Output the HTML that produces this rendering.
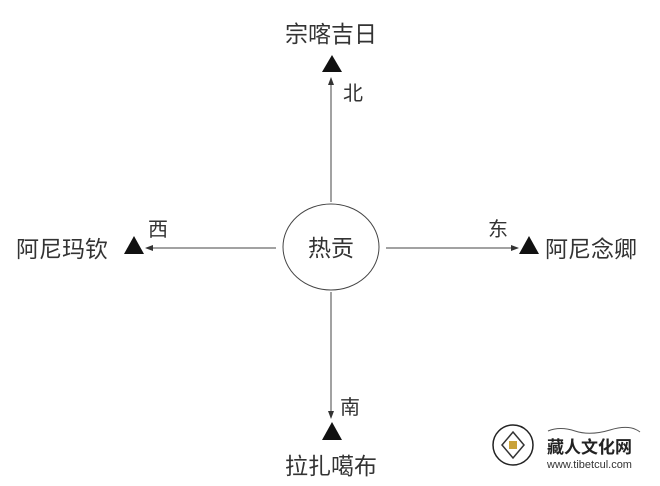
<!DOCTYPE html>
<html><head><meta charset="utf-8"><style>
html,body{margin:0;padding:0;background:#fff;}
svg{display:block;}
text{font-family:"Liberation Sans","Noto Sans CJK SC",sans-serif;fill:#333;}
</style></head><body>
<svg width="660" height="486" viewBox="0 0 660 486" xmlns="http://www.w3.org/2000/svg">
<defs>
<marker id="a" markerWidth="8" markerHeight="6" refX="7" refY="3" orient="auto" markerUnits="userSpaceOnUse">
<path d="M0,0 L8,3 L0,6 Z" fill="#333"/></marker>
</defs>
<g stroke="#444" stroke-width="1" fill="none">
<ellipse cx="331" cy="247" rx="48" ry="43"/>
<line x1="331" y1="202" x2="331" y2="78" marker-end="url(#a)"/>
<line x1="331" y1="292" x2="331" y2="418" marker-end="url(#a)"/>
<line x1="276" y1="248" x2="146" y2="248" marker-end="url(#a)"/>
<line x1="386" y1="248" x2="518" y2="248" marker-end="url(#a)"/>
</g>
<g fill="#111">
<polygon points="332,55 322,72 342,72"/>
<polygon points="332,422 322,440 342,440"/>
<polygon points="134,236 124,254 144,254"/>
<polygon points="529,236 519,254 539,254"/>
</g>
<text x="331" y="256" font-size="23" text-anchor="middle">热贡</text>
<text x="331" y="42" font-size="23" text-anchor="middle">宗喀吉日</text>
<text x="331" y="474" font-size="23" text-anchor="middle">拉扎噶布</text>
<text x="16" y="257" font-size="23">阿尼玛钦</text>
<text x="545" y="257" font-size="23">阿尼念卿</text>
<text x="343" y="100" font-size="20">北</text>
<text x="340" y="414" font-size="20">南</text>
<text x="148" y="236" font-size="20">西</text>
<text x="488" y="236" font-size="20">东</text>
<g>
<circle cx="513" cy="445" r="20" fill="none" stroke="#222" stroke-width="1.5"/>
<path d="M513,432 L524,445 L513,458 L502,445 Z" fill="none" stroke="#333" stroke-width="1.5"/>
<rect x="509" y="441" width="8" height="8" fill="#c9a23a"/>
<path d="M548,431 Q560,426 575,431 T610,430 T640,432" stroke="#555" fill="none" stroke-width="1"/>
<text x="547" y="453" font-size="17" font-weight="bold" style="fill:#222">藏人文化网</text>
<text x="547" y="468" font-size="11">www.tibetcul.com</text>
</g>
</svg>
</body></html>
